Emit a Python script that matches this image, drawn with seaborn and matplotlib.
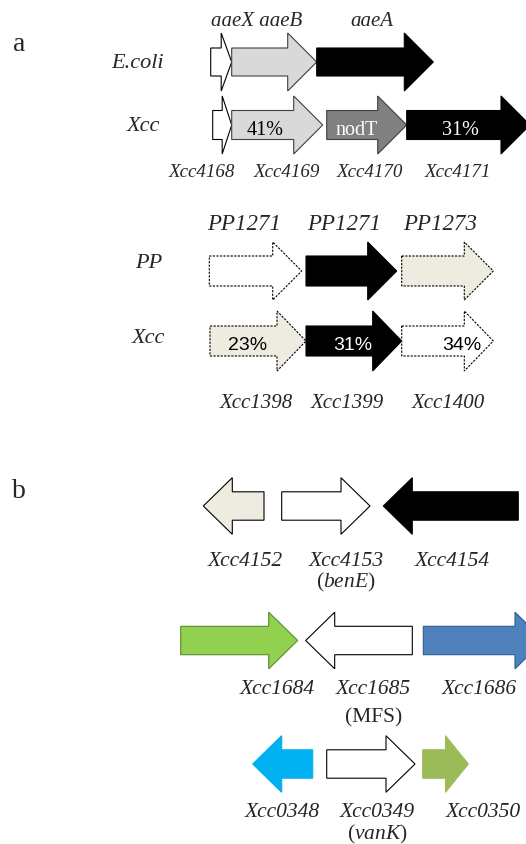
import matplotlib
matplotlib.use("Agg")
import matplotlib.pyplot as plt
from matplotlib.patches import Polygon
import seaborn as sns
import pandas as pd

# ---------------- data ----------------
# section a, operon 1
ecoli_names = ["aaeX", "aaeB", "aaeA"]
ecoli_start = [210.7, 231.7, 316.7]
ecoli_end = [231.7, 316.7, 433.3]
ecoli_fill = ["white", "#D9D9D9", "black"]

xcc1_names = ["Xcc4168", "Xcc4169", "Xcc4170", "Xcc4171"]
xcc1_start = [212.7, 231.7, 326.7, 406.7]
xcc1_end = [231.7, 322.7, 406.7, 530.0]
xcc1_fill = ["white", "#D9D9D9", "#808080", "black"]
xcc1_inner = ["", "41%", "nodT", "31%"]
xcc1_inner_x = [None, 265, 356.7, 460]
xcc1_label_x = [201.7, 286.7, 370, 458]

# section a, operon 2
pp_names = ["PP1271", "PP1271", "PP1273"]
pp_start = [209.3, 306.0, 401.7]
pp_end = [301.7, 396.7, 493.3]
pp_fill = ["white", "black", "#EEECE1"]
pp_label_x = [244, 344, 440]

xcc2_names = ["Xcc1398", "Xcc1399", "Xcc1400"]
xcc2_start = [210.0, 306.0, 401.7]
xcc2_end = [306.0, 401.7, 493.3]
xcc2_fill = ["#EEECE1", "black", "white"]
xcc2_inner = ["23%", "31%", "34%"]
xcc2_inner_x = [248, 353, 462]
xcc2_label_x = [256.7, 347.5, 448.3]

# section b
b1_names = ["Xcc4152", "Xcc4153", "Xcc4154"]
b1_start = [203.3, 281.7, 383.3]
b1_end = [264.0, 370.0, 518.3]
b1_strand = [-1, 1, -1]
b1_fill = ["#EEECE1", "white", "black"]
b1_label_x = [245, 345.8, 452.5]
b1_note = ["", "(benE)", ""]

b2_names = ["Xcc1684", "Xcc1685", "Xcc1686"]
b2_start = [180.7, 305.7, 423.3]
b2_end = [297.7, 412.3, 544.0]
b2_strand = [1, -1, 1]
b2_fill = ["#92D050", "white", "#4F81BD"]
b2_label_x = [277.5, 373.3, 479]
b2_note = ["", "(MFS)", ""]

b3_names = ["Xcc0348", "Xcc0349", "Xcc0350"]
b3_start = [252.7, 326.7, 422.7]
b3_end = [312.7, 415.0, 468.3]
b3_strand = [-1, 1, 1]
b3_fill = ["#00B0F0", "white", "#9BBB59"]
b3_label_x = [282.5, 377.5, 483.3]
b3_note = ["", "(vanK)", ""]

# ---------------- style ----------------
sns.set_theme(style="white")
plt.rcParams["font.family"] = ["Liberation Serif", "DejaVu Serif"]
plt.rcParams["mathtext.fontset"] = "custom"
plt.rcParams["mathtext.rm"] = "Liberation Serif"
plt.rcParams["mathtext.it"] = "Liberation Serif:italic"

fig = plt.figure(figsize=(5.26, 8.45), dpi=100)
ax = fig.add_axes([0, 0, 1, 1])
ax.set_xlim(0, 526)
ax.set_ylim(845, 0)
ax.axis("off")

EDGE = {"white": "black", "#D9D9D9": "#404040", "#808080": "#404040",
        "black": "black", "#EEECE1": "black", "#92D050": "#5E8A2E",
        "#4F81BD": "#2F5C8F", "#00B0F0": "#00B0F0", "#9BBB59": "#9BBB59"}


def arrow(x0, x1, y, strand, fill, bh, hh, dashed=False, head=29):
    hl = min(head, 0.5 * (x1 - x0))
    if strand > 0:
        hs = x1 - hl
        pts = [(x0, y - bh), (hs, y - bh), (hs, y - hh), (x1, y),
               (hs, y + hh), (hs, y + bh), (x0, y + bh)]
    else:
        hs = x0 + hl
        pts = [(x1, y - bh), (hs, y - bh), (hs, y - hh), (x0, y),
               (hs, y + hh), (hs, y + bh), (x1, y + bh)]
    ls = (0, (2.0, 1.2)) if (dashed and fill != "black") else "-"
    p = Polygon(pts, closed=True, facecolor=fill, edgecolor=EDGE[fill],
                linewidth=0.8, linestyle=ls, joinstyle="miter")
    ax.add_patch(p)


def track(df, y, bh, hh, dashed=False):
    for _, r in df.iterrows():
        arrow(r.start, r.end, y, r.strand, r.fill, bh, hh, dashed)


ITAL = dict(style="italic", ha="center", va="baseline")

# panel letters
ax.text(19, 51, "a", fontsize=20, ha="center", va="baseline")
ax.text(19, 498, "b", fontsize=20, ha="center", va="baseline")

# ---- E.coli row ----
df = pd.DataFrame(dict(start=ecoli_start, end=ecoli_end, strand=1, fill=ecoli_fill))
track(df, 63, 14, 29)
ax.text(138, 68, "E.coli", fontsize=16, **ITAL)
ax.text(257, 26, ecoli_names[0] + " " + ecoli_names[1], fontsize=15, **ITAL)
ax.text(372, 26, ecoli_names[2], fontsize=15, **ITAL)

# ---- Xcc row 1 ----
df = pd.DataFrame(dict(start=xcc1_start, end=xcc1_end, strand=1, fill=xcc1_fill))
track(df, 126, 14.5, 29)
ax.text(143, 131, "Xcc", fontsize=16, **ITAL)
for t, x, f in zip(xcc1_inner, xcc1_inner_x, xcc1_fill):
    if t:
        ax.text(x, 135, t, fontsize=14.5, ha="center", va="baseline",
                color="white" if f in ("black", "#808080") else "black")
for n, x in zip(xcc1_names, xcc1_label_x):
    ax.text(x, 177, n, fontsize=13.7, **ITAL)

# ---- PP row ----
df = pd.DataFrame(dict(start=pp_start, end=pp_end, strand=1, fill=pp_fill))
track(df, 272, 15, 29, dashed=True)
ax.text(148.5, 268, "PP", fontsize=16, **ITAL)
for n, x in zip(pp_names, pp_label_x):
    ax.text(x, 230, n, fontsize=16.5, **ITAL)

# ---- Xcc row 2 ----
df = pd.DataFrame(dict(start=xcc2_start, end=xcc2_end, strand=1, fill=xcc2_fill))
track(df, 342, 15, 30, dashed=True)
ax.text(148.5, 343, "Xcc", fontsize=16, **ITAL)
for t, x, f in zip(xcc2_inner, xcc2_inner_x, xcc2_fill):
    ax.text(x, 350, t, fontsize=14, ha="center", va="baseline",
            family=["Liberation Sans", "DejaVu Sans"],
            color="white" if f == "black" else "black")
for n, x in zip(xcc2_names, xcc2_label_x):
    ax.text(x, 408, n, fontsize=15, **ITAL)

# ---- section b ----
rows_b = [
    (b1_names, b1_start, b1_end, b1_strand, b1_fill, b1_label_x, b1_note, 507, 566, 587, 15.5),
    (b2_names, b2_start, b2_end, b2_strand, b2_fill, b2_label_x, b2_note, 641.5, 694.3, 722, 15.5),
    (b3_names, b3_start, b3_end, b3_strand, b3_fill, b3_label_x, b3_note, 765, 816.7, 839, 15.5),
]
for names, st, en, sd, fl, lx, note, y, yl, yn, fs in rows_b:
    df = pd.DataFrame(dict(start=st, end=en, strand=sd, fill=fl))
    track(df, y, 14.2, 28.3)
    for n, x, nt in zip(names, lx, note):
        ax.text(x, yl, n, fontsize=fs, **ITAL)
        if nt:
            inner = nt[1:-1]
            if inner == "MFS":
                ax.text(x, yn, nt, fontsize=fs, ha="center", va="baseline")
            else:
                ax.text(x, yn, "(" + r"$\mathit{" + inner + "}$" + ")",
                        fontsize=fs, ha="center", va="baseline")

fig.savefig("out.png", dpi=100)
